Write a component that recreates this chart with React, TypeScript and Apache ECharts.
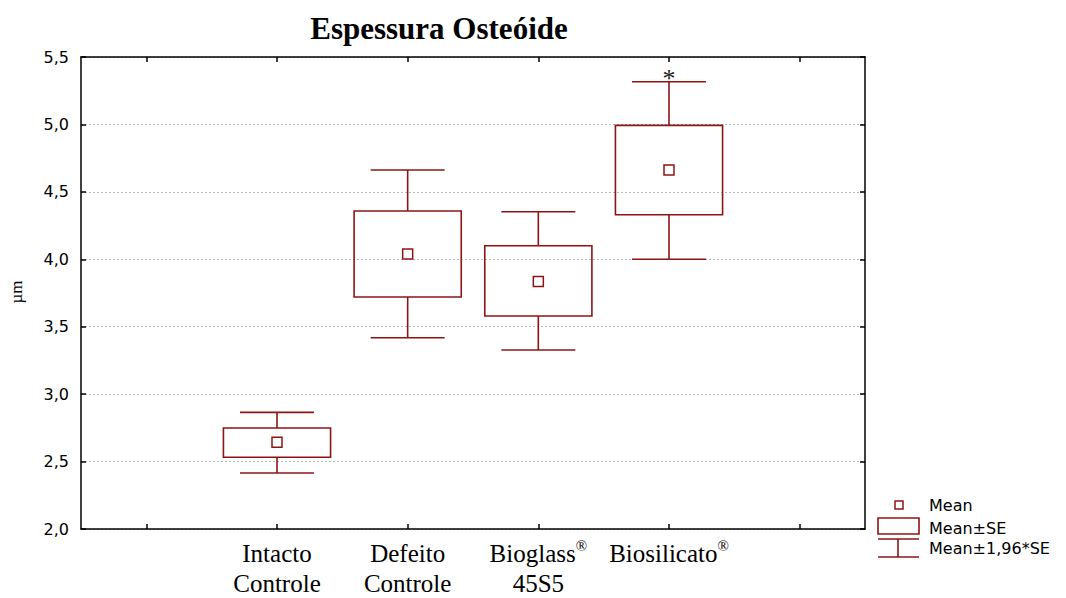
import React, { useEffect, useRef } from "react";
import * as echarts from "echarts";

const categories = ["", "Intacto\nControle", "Defeito\nControle", "Bioglass{sup|®}\n45S5", "Biosilicato{sup|®}", ""];
const groupIndex = [1, 2, 3, 4];
const means = [2.643, 4.04, 3.835, 4.663];
const seLow = [2.532, 3.72, 3.58, 4.33];
const seHigh = [2.749, 4.358, 4.1, 4.993];
const ciLow = [2.415, 3.418, 3.327, 4.0];
const ciHigh = [2.865, 4.662, 4.352, 5.317];
const marks = ["", "", "", "*"];
const yTicks = { min: 2.0, max: 5.5, interval: 0.5 };
const legendLabels = ["Mean", "Mean±SE", "Mean±1,96*SE"];

const RED = "#8e1414";
const SANS = "'DejaVu Sans', sans-serif";
const SERIF = "'Liberation Serif', 'Times New Roman', serif";

export default function App() {
  const ref = useRef<HTMLDivElement>(null);
  useEffect(() => {
    if (!ref.current) return;
    const chart = echarts.init(ref.current, null, { renderer: "svg" });
    const data = groupIndex.map((g, i) => [g, means[i], seLow[i], seHigh[i], ciLow[i], ciHigh[i], i]);

    const renderItem = (params: any, api: any) => {
      const x = api.value(0);
      const idx = api.value(6);
      const band = api.size([1, 0])[0];
      const [cx, yMean] = api.coord([x, api.value(1)]);
      const ySeLo = api.coord([x, api.value(2)])[1];
      const ySeHi = api.coord([x, api.value(3)])[1];
      const yCiLo = api.coord([x, api.value(4)])[1];
      const yCiHi = api.coord([x, api.value(5)])[1];
      const bw = band * 0.82;
      const cw = band * 0.566;
      const st = { stroke: RED, lineWidth: 1.6, fill: null };
      const children: any[] = [
        { type: "line", shape: { x1: cx, y1: yCiHi, x2: cx, y2: ySeHi }, style: st },
        { type: "line", shape: { x1: cx, y1: ySeLo, x2: cx, y2: yCiLo }, style: st },
        { type: "line", shape: { x1: cx - cw / 2, y1: yCiHi, x2: cx + cw / 2, y2: yCiHi }, style: st },
        { type: "line", shape: { x1: cx - cw / 2, y1: yCiLo, x2: cx + cw / 2, y2: yCiLo }, style: st },
        { type: "rect", shape: { x: cx - bw / 2, y: ySeHi, width: bw, height: ySeLo - ySeHi }, style: st },
        { type: "rect", shape: { x: cx - 5, y: yMean - 5, width: 10, height: 10 }, style: { stroke: RED, lineWidth: 1.5, fill: "#fff" } },
      ];
      const m = marks[idx];
      if (m) {
        children.push({
          type: "text",
          style: { text: m, x: cx, y: yCiHi + 10, align: "center", verticalAlign: "bottom", fill: "#222", font: `26px ${SERIF}` },
        });
      }
      return { type: "group", children };
    };

    const axisLine = { show: true, lineStyle: { color: "#000", width: 1.5 } };
    const tick = { show: true, inside: true, length: 5, lineStyle: { color: "#000", width: 1.5 } };

    chart.setOption({
      animation: false,
      backgroundColor: "#fff",
      grid: { left: 81, right: 201, top: 57, bottom: 69, containLabel: false, outerBoundsMode: "none" },
      xAxis: [
        {
          type: "category",
          data: categories,
          boundaryGap: true,
          axisLine,
          axisTick: { ...tick, alignWithLabel: true },
          splitLine: { show: false },
          axisLabel: {
            interval: 0,
            margin: 9,
            color: "#000",
            fontFamily: SERIF,
            fontSize: 25,
            lineHeight: 30,
            rich: {
              sup: { fontFamily: SERIF, fontSize: 15, verticalAlign: "top", lineHeight: 30, color: "#000", padding: [0, 0, 12, 0] },
            },
          },
        },
        {
          type: "category",
          data: categories,
          position: "top",
          boundaryGap: true,
          axisLine,
          axisTick: { ...tick, alignWithLabel: true },
          axisLabel: { show: false },
        },
      ],
      yAxis: [
        {
          type: "value",
          min: yTicks.min,
          max: yTicks.max,
          interval: yTicks.interval,
          axisLine,
          axisTick: tick,
          splitLine: { show: true, lineStyle: { color: "#b8b8b8", type: [2, 2], width: 1 } },
          axisLabel: {
            margin: 12,
            color: "#000",
            fontFamily: SANS,
            fontSize: 16,
            formatter: (v: number) => v.toFixed(1).replace(".", ","),
          },
        },
        {
          type: "value",
          position: "right",
          min: yTicks.min,
          max: yTicks.max,
          interval: yTicks.interval,
          axisLine,
          axisTick: tick,
          splitLine: { show: false },
          axisLabel: { show: false },
        },
      ],
      series: [
        {
          type: "custom",
          renderItem,
          data,
          encode: { x: 0, y: [1, 2, 3, 4, 5] },
          z: 10,
        },
      ],
      graphic: [
        {
          type: "text",
          x: 439,
          y: 28,
          style: { text: "Espessura Osteóide", align: "center", verticalAlign: "middle", fill: "#000", font: `bold 31px ${SERIF}` },
        },
        {
          type: "text",
          x: 16,
          y: 292,
          rotation: Math.PI / 2,
          style: { text: "µm", align: "center", verticalAlign: "middle", fill: "#000", font: `17px ${SERIF}` },
        },
        { type: "rect", shape: { x: 895, y: 501, width: 8, height: 8 }, style: { stroke: RED, lineWidth: 1.5, fill: "#fff" } },
        { type: "rect", shape: { x: 878, y: 518, width: 41, height: 16 }, style: { stroke: RED, lineWidth: 1.6, fill: "#fff" } },
        { type: "line", shape: { x1: 878, y1: 539, x2: 919, y2: 539 }, style: { stroke: RED, lineWidth: 1.6 } },
        { type: "line", shape: { x1: 898, y1: 539, x2: 898, y2: 557 }, style: { stroke: RED, lineWidth: 1.6 } },
        { type: "line", shape: { x1: 878, y1: 557, x2: 919, y2: 557 }, style: { stroke: RED, lineWidth: 1.6 } },
        ...legendLabels.map((t, i) => ({
          type: "text",
          x: 929,
          y: [505.5, 528.5, 548.5][i],
          style: { text: t, align: "left", verticalAlign: "middle", fill: "#000", font: `16px ${SANS}` },
        })),
      ],
    });
    return () => chart.dispose();
  }, []);
  return <div ref={ref} style={{ width: 1066, height: 598, position: "absolute", left: 0, top: 0 }} />;
}
